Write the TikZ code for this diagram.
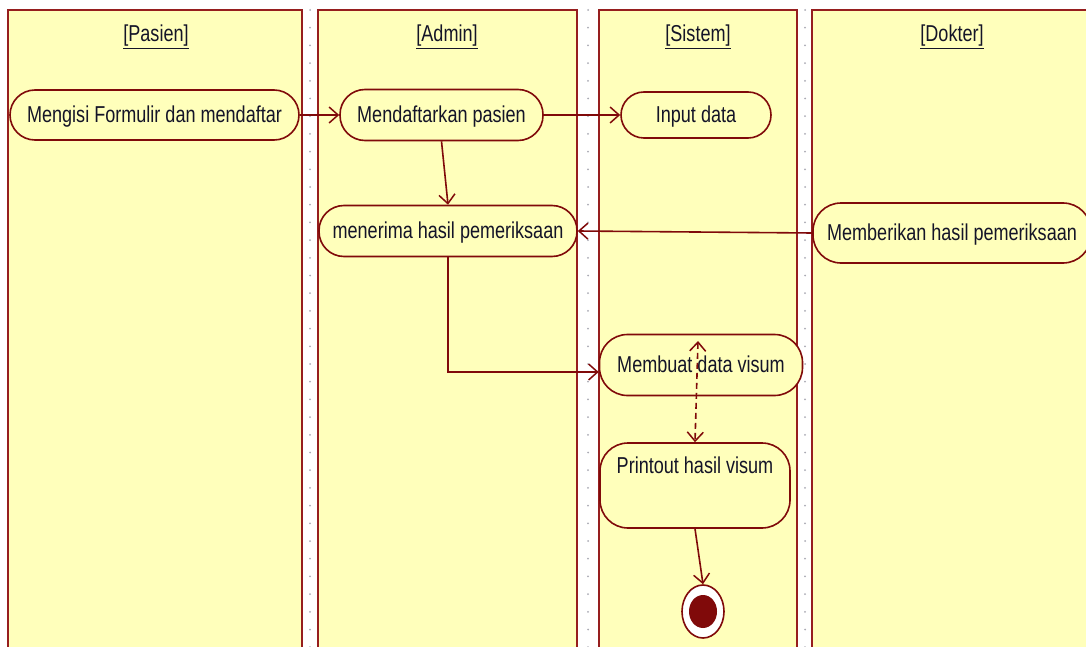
\documentclass[tikz,border=0pt]{standalone}
\usepackage{fontspec}
\setmainfont[FakeStretch=0.785]{Liberation Sans}
\usetikzlibrary{arrows.meta,shapes.geometric}
\definecolor{laneyellow}{RGB}{255,255,187}
\definecolor{lanered}{RGB}{150,30,30}
\definecolor{edgered}{RGB}{128,10,10}
\definecolor{inktext}{RGB}{20,20,40}
\definecolor{griddot}{RGB}{170,170,180}
\newcommand{\diagfont}{\fontsize{23}{27}\selectfont}
\begin{document}
\begin{tikzpicture}[x=1pt,y=-1pt,
  lanebox/.style={draw=lanered, fill=laneyellow, line width=2.2pt},
  lanetitle/.style={text=inktext, font=\diagfont, inner sep=0pt},
  act/.style={draw=edgered, fill=laneyellow, line width=1.6pt, inner sep=0pt,
    text=inktext, font=\diagfont, text height=19pt, text depth=4pt},
  flow/.style={draw=edgered, line width=1.6pt, -{Straight Barb[length=9pt,width=16pt,line width=1.5pt]}},
  dflow/.style={draw=edgered, line width=1.6pt, dash pattern=on 6pt off 4pt,
    {Straight Barb[length=9pt,width=16pt,line width=1.5pt]}-{Straight Barb[length=9pt,width=16pt,line width=1.5pt]}}
]
\useasboundingbox (0,0) rectangle (1086,647);
\clip (0,0) rectangle (1086,647);
\fill[white] (0,0) rectangle (1086,647);

% dotted grid showing through the gaps between the swimlanes
\foreach \gx in {310,588,805}{
  \foreach \k in {0,...,36}{
    \fill[griddot] (\gx,{10+17.7*\k}) circle (1pt);
  }
}

% swimlanes
\draw[lanebox] (8,10) rectangle (302,670);
\draw[lanebox] (318,10) rectangle (577,670);
\draw[lanebox] (599,10) rectangle (797,670);
\draw[lanebox] (812,10) rectangle (1100,670);

\node[lanetitle] (tPasien) at (156,37) {\underline{[Pasien]}};
\node[lanetitle] (tAdmin) at (447,37) {\underline{[Admin]}};
\node[lanetitle] (tSistem) at (698,37) {\underline{[Sistem]}};
\node[lanetitle] (tDokter) at (952,37) {\underline{[Dokter]}};

% activities
\node[act, minimum width=289pt, minimum height=50pt, rounded corners=25pt] (isi) at (154.5,115) {Mengisi Formulir dan mendaftar};
\node[act, minimum width=203pt, minimum height=51pt, rounded corners=25pt] (daftar) at (441.5,115) {Mendaftarkan pasien};
\node[act, minimum width=150pt, minimum height=46pt, rounded corners=23pt] (input) at (696,115) {Input data};
\node[act, minimum width=258pt, minimum height=51pt, rounded corners=25pt] (terima) at (448,231) {menerima hasil pemeriksaan};
\node[act, minimum width=278pt, minimum height=60pt, rounded corners=28pt] (beri) at (952,233) {Memberikan hasil pemeriksaan};
\node[act, minimum width=203pt, minimum height=61pt, rounded corners=28pt] (buat) at (701,365) {Membuat data visum};
\node[act, minimum width=190pt, minimum height=85pt, rounded corners=28pt,
  label={[anchor=north, yshift=-14pt, text=inktext, font=\diagfont, inner sep=0pt]north:Printout hasil visum}] (print) at (695,485.5) {};

% final node
\node[draw=edgered, fill=white, line width=1.6pt, ellipse, minimum width=42pt, minimum height=53pt, inner sep=0pt] (final) at (703,611.5) {};
\node[fill=edgered, ellipse, minimum width=28pt, minimum height=33pt, inner sep=0pt] (finaldot) at (703,611.5) {};

% flows
\draw[flow] (isi.east) -- (daftar.west);
\draw[flow] (daftar.east) -- (input.west);
\draw[flow] (daftar.south) -- (terima.north);
\draw[flow] (beri.west) -- (terima.east);
\coordinate (buatIn) at ([yshift=-7pt]buat.west);
\draw[flow] (terima.south) |- (buatIn);
\coordinate (buatTop) at (698,341);
\draw[dflow] (buatTop) -- (print.north);
\draw[flow] (print.south) -- (final.north);
\end{tikzpicture}
\end{document}
